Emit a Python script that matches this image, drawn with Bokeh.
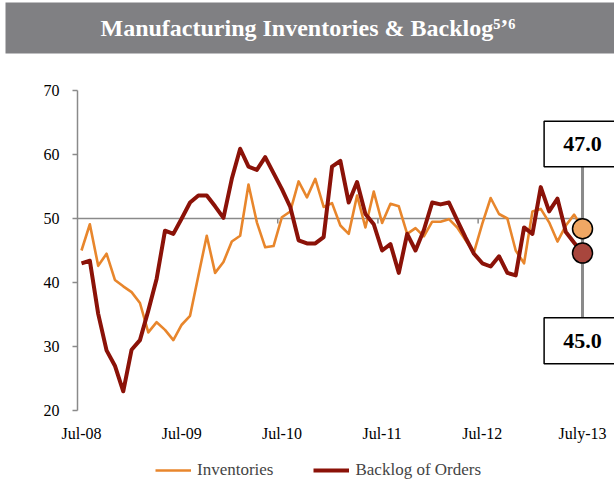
from bokeh.plotting import figure
from bokeh.models import Legend, LegendItem, FixedTicker, Title
from bokeh.core.properties import value
from bokeh.embed import file_html
from bokeh.resources import INLINE

# ---- data ----
months = list(range(61))  # Jul-08 .. Jul-13, monthly index
tick_positions = [0, 12, 24, 36, 48, 60]
tick_labels = ["Jul-08", "Jul-09", "Jul-10", "Jul-11", "Jul-12", "July-13"]

inventories = [45.0, 49.1, 42.6, 44.5, 40.4, 39.4, 38.5, 36.8, 32.2, 33.8,
               32.6, 31.0, 33.4, 34.8, 41.1, 47.3, 41.5, 43.2, 46.4, 47.3,
               55.3, 49.4, 45.5, 45.7, 50.2, 51.1, 55.8, 53.3, 56.2, 51.8,
               52.4, 48.9, 47.6, 53.6, 48.6, 54.2, 49.3, 52.3, 51.9, 47.6,
               48.5, 47.2, 49.5, 49.5, 49.9, 48.6, 46.6, 44.7, 49.2, 53.2,
               50.7, 50.0, 45.0, 43.0, 51.1, 51.5, 49.4, 46.4, 48.9, 50.6,
               48.4]
backlog = [43.0, 43.4, 35.1, 29.4, 27.0, 23.0, 29.5, 31.0, 35.6, 40.6,
           48.1, 47.6, 50.0, 52.5, 53.6, 53.6, 51.9, 50.1, 56.2, 60.9,
           58.1, 57.6, 59.6, 57.1, 54.6, 51.8, 46.6, 46.1, 46.1, 47.1,
           58.1, 59.0, 52.5, 55.7, 50.7, 49.1, 45.0, 46.0, 41.5, 47.6,
           45.0, 48.2, 52.5, 52.2, 52.5, 49.7, 47.0, 44.5, 43.0, 42.5,
           44.1, 41.5, 41.1, 48.6, 47.6, 54.9, 51.1, 53.1, 47.9, 46.2,
           44.6]
callout_labels = ["47.0", "45.0"]
series_names = ["Inventories", "Backlog of Orders"]
title_text = "Manufacturing Inventories & Backlog\u2075\u02bc\u2076"

ORANGE = "#E8862C"
DARKRED = "#8B1208"
SERIF = "Liberation Serif"

# frame spans x 40..614 and y 80..482; axes are pinned inside it
p = figure(width=614, height=482, x_range=(-4.91, 63.83), y_range=(8.75, 71.5625),
           x_axis_location="above",
           output_backend="svg", toolbar_location=None,
           min_border_left=40, min_border_right=0, min_border_top=80,
           min_border_bottom=0)
p.outline_line_color = None
p.xgrid.visible = False
p.ygrid.visible = False

# ---- title bar: spacer title next to the frame, then the gray title bar ----
p.add_layout(Title(text=" ", text_font_size="1px", standoff=23), "above")
p.title = Title(text=title_text, text_font=SERIF, text_font_style="bold",
                text_font_size="24px", text_color="white", align="left",
                offset=-35, standoff=0, vertical_align="middle",
                background_fill_color="#808083",
                padding=dict(left=95, right=400, top=12, bottom=13))

# y axis (pinned at the left edge of the data)
p.yaxis.ticker = FixedTicker(ticks=[20, 30, 40, 50, 60, 70])
p.yaxis.fixed_location = -0.48
p.yaxis.bounds = (20, 70)
p.yaxis.axis_line_color = "#8a8a8a"
p.yaxis.axis_line_width = 1.5
p.yaxis.major_tick_line_color = "#8a8a8a"
p.yaxis.major_tick_line_width = 1.5
p.yaxis.major_tick_out = 5
p.yaxis.major_tick_in = 0
p.yaxis.minor_tick_line_color = None
p.yaxis.major_label_text_font = SERIF
p.yaxis.major_label_text_font_size = "16px"
p.yaxis.major_label_text_color = "black"
p.yaxis.major_label_standoff = 13

# x axis (pinned just below the 20 line)
p.xaxis.ticker = FixedTicker(ticks=tick_positions)
p.xaxis.major_label_overrides = {tp: lb for tp, lb in zip(tick_positions, tick_labels)}
p.xaxis.fixed_location = 14.84
p.xaxis.axis_line_color = None
p.xaxis.major_tick_line_color = None
p.xaxis.minor_tick_line_color = None
p.xaxis.major_tick_out = 0
p.xaxis.major_tick_in = 0
p.xaxis.major_label_text_font = SERIF
p.xaxis.major_label_text_font_size = "16px"
p.xaxis.major_label_text_color = "black"
p.xaxis.major_label_standoff = 2

# 50 reference line with small ticks
p.segment(x0=[-0.48], y0=[50], x1=[60], y1=[50], line_color="#8a8a8a", line_width=1.5)
p.segment(x0=[23.5, 35.5, 47.5], y0=[50, 50, 50], x1=[23.5, 35.5, 47.5],
          y1=[49.2, 49.2, 49.2], line_color="#8a8a8a", line_width=1.5)

# callout connector
p.segment(x0=[60], y0=[58.1], x1=[60], y1=[34.5], line_color="#8a8a8a", line_width=3)

r_inv = p.line(months, inventories, line_color=ORANGE, line_width=2.6, line_join="round")
r_bac = p.line(months, backlog, line_color=DARKRED, line_width=4, line_join="round")

p.scatter(x=[months[-1]], y=[inventories[-1]], size=20, fill_color="#F0A764",
          line_color="black", line_width=1.5)
p.scatter(x=[months[-1]], y=[backlog[-1]], size=20, fill_color="#A8463D",
          line_color="black", line_width=1.5)

# callout boxes
p.quad(left=[55.4, 55.4], right=[64.5, 64.5], top=[65.2, 34.5], bottom=[58.1, 27.3],
       fill_color="white", line_color="black", line_width=1.5)
p.text(x=[60, 60], y=[61.65, 30.9], text=callout_labels,
       text_font=value(SERIF), text_font_style="bold", text_font_size="22px",
       text_align="center", text_baseline="middle", text_color="black")

legend = Legend(items=[LegendItem(label=series_names[0], renderers=[r_inv]),
                       LegendItem(label=series_names[1], renderers=[r_bac])],
                orientation="horizontal", location=(115, 2),
                label_text_font=SERIF, label_text_font_size="17px",
                border_line_color=None, background_fill_alpha=0,
                glyph_width=36, spacing=40, padding=3, margin=0,
                label_standoff=6)
p.add_layout(legend, "center")

open("out.html", "w").write(file_html(p, INLINE))
